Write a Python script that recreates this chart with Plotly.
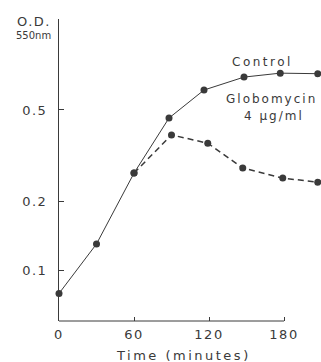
import plotly.graph_objects as go
import math

# Data
control_t = [0, 30, 60, 88, 116, 148, 177, 207]
control_od = [0.079, 0.130, 0.265, 0.461, 0.611, 0.696, 0.724, 0.72]
glob_t = [60, 90, 119, 147, 179, 207]
glob_od = [0.265, 0.389, 0.358, 0.279, 0.252, 0.242]

x_ticks = [0, 60, 120, 180]
x_ticklabels = ["0", "60", "120", "180"]
y_ticks = [0.1, 0.2, 0.5, 1.248]
y_ticklabels = ["0.1", "0.2", "0.5", ""]

INK = "#3a3a3a"
FONT = "DejaVu Sans"

# plot area in pixels
L, R, T, B = 59, 321, 19, 321

def px(xp, yp):
    return (xp - L) / (R - L), (B - yp) / (B - T)

def spaced(s, ls=1.5):
    return f'<span style="letter-spacing:{ls}px">{s}</span>'

fig = go.Figure()
fig.add_trace(go.Scatter(
    x=control_t, y=control_od, mode="lines+markers",
    line=dict(color=INK, width=1),
    marker=dict(color=INK, size=7),
    cliponaxis=False, showlegend=False))
fig.add_trace(go.Scatter(
    x=glob_t, y=glob_od, mode="lines+markers",
    line=dict(color=INK, width=1.5, dash="6px,4px"),
    marker=dict(color=INK, size=7),
    cliponaxis=False, showlegend=False))

fig.update_layout(
    width=321, height=362,
    margin=dict(l=L, r=321 - R, t=T, b=362 - B, pad=0, autoexpand=False),
    paper_bgcolor="white", plot_bgcolor="white",
    font=dict(family=FONT, color=INK, size=12),
    xaxis=dict(
        range=[0, 209.6], showgrid=False, zeroline=False, showline=False,
        automargin=False,
        tickmode="array", tickvals=x_ticks,
        ticktext=[spaced(t) for t in x_ticklabels],
        ticks="inside", ticklen=4, tickcolor=INK, tickwidth=1,
        tickfont=dict(size=13, family=FONT, color=INK),
        ticklabelstandoff=4,
    ),
    yaxis=dict(
        type="log", range=[math.log10(0.0599), math.log10(1.248)],
        showgrid=False, zeroline=False, showline=True, linecolor=INK, linewidth=1,
        automargin=False,
        tickmode="array", tickvals=y_ticks,
        ticktext=[spaced(t) for t in y_ticklabels],
        ticks="inside", ticklen=5, tickcolor=INK, tickwidth=1,
        tickfont=dict(size=13, family=FONT, color=INK),
        ticklabelstandoff=8,
    ),
)

# x axis line only spanning 0..180
fig.add_shape(type="line", xref="x", yref="paper", x0=0, x1=180, y0=0, y1=0,
              line=dict(color=INK, width=1))

def note(xp, yp, text, size=12, anchor="center"):
    x, y = px(xp, yp)
    fig.add_annotation(x=x, y=y, xref="paper", yref="paper", xanchor=anchor,
                       yanchor="middle", text=text, showarrow=False,
                       font=dict(size=size, family=FONT, color=INK))

note(183, 355, spaced("Time (minutes)", 2.5), 13)
note(53, 21, spaced("O.D.", 1.5), 13, "right")
note(53, 35, "550nm", 10, "right")
note(262, 62, spaced("Control", 2.5), 12)
note(271, 99, spaced("Globomycin", 2), 12)
note(274, 116, spaced("4 μg/ml", 2), 12)

fig.write_html("out.html",
               config={"displayModeBar": False},
               post_script="document.body.style.margin='0';document.body.style.overflow='hidden';")
